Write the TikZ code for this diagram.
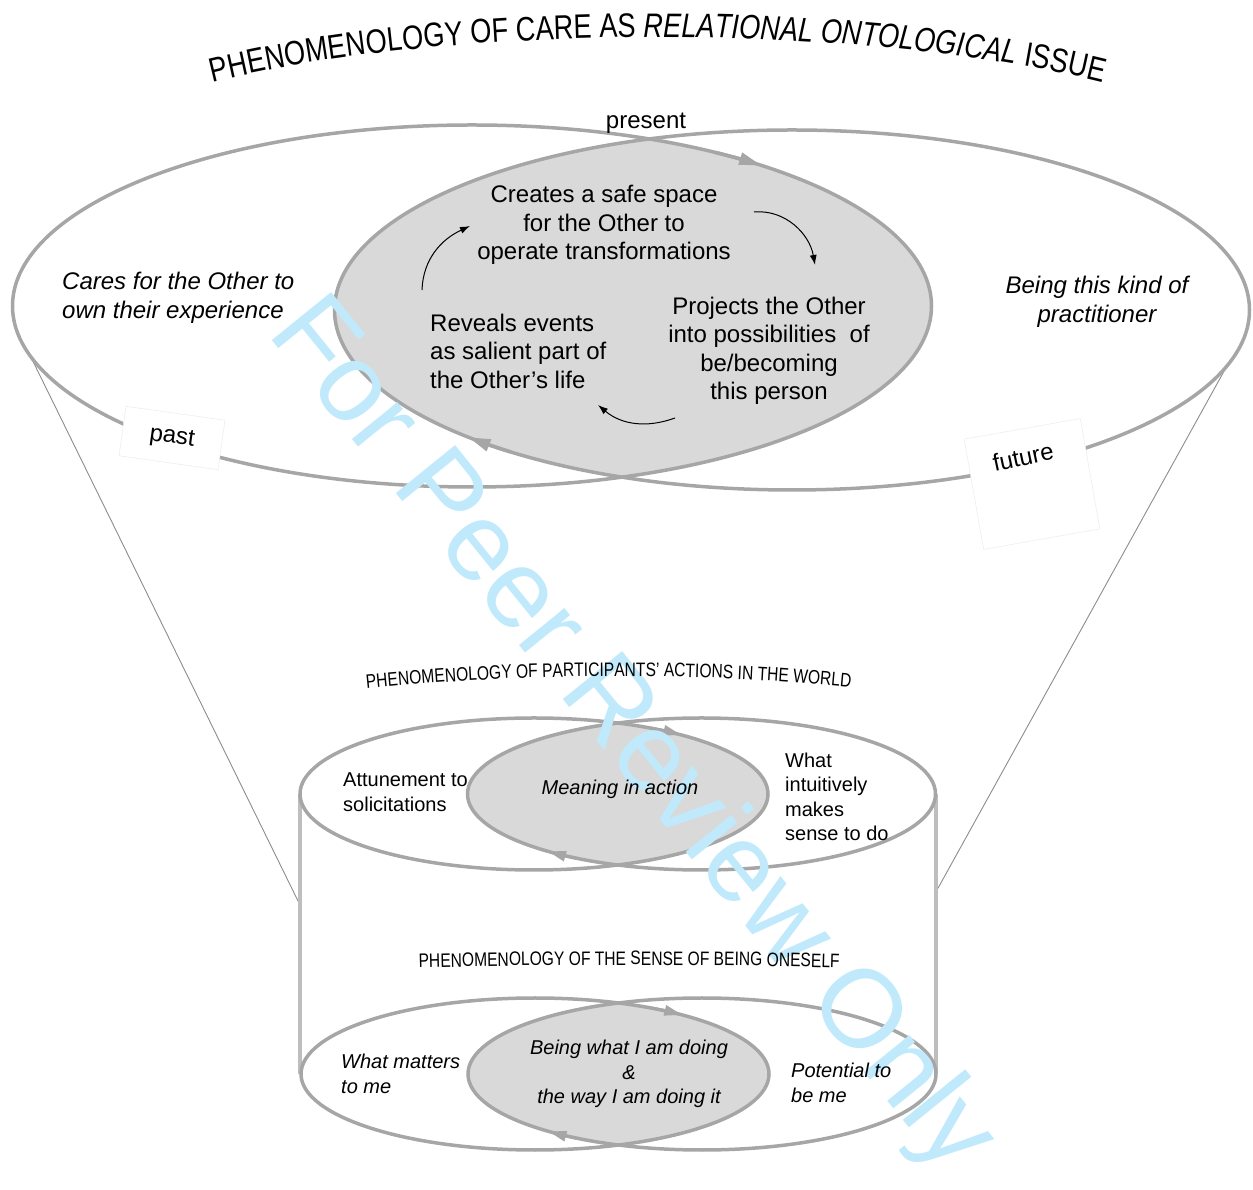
\documentclass[tikz,border=0pt]{standalone}
\usepackage{fontspec}
\setmainfont{Liberation Sans}
\newfontfamily\titlefont[FakeStretch=0.8]{Liberation Sans}
\usetikzlibrary{arrows.meta,decorations.text}

\definecolor{ringgray}{RGB}{166,166,166}
\definecolor{lensgray}{RGB}{217,217,217}
\definecolor{sidegray}{RGB}{190,190,190}
\definecolor{markcyan}{RGB}{192,234,251}

\tikzset{
  ring/.style={draw=ringgray, line width=3.5pt},
  lens/.style={fill=lensgray},
  ringtip/.style={-{Triangle[length=22pt,width=12pt]}, draw=ringgray, line width=3.5pt},
  smalltip/.style={-{Triangle[length=18pt,width=10pt]}, draw=ringgray, line width=3pt},
  side/.style={draw=sidegray, line width=3.5pt},
  funnel/.style={draw=gray!90, line width=0.9pt},
  cyclearrow/.style={-{Latex[length=10pt,width=7pt]}, line width=1pt},
  bigtext/.style={font=\fontsize{24}{28.5}\selectfont, align=center, inner sep=0pt},
  smalltext/.style={font=\fontsize{20}{24.5}\selectfont, align=left, inner sep=0pt},
  tagbox/.style={fill=white, draw=black!8, line width=0.5pt},
  watermark/.style={font=\fontsize{111}{111}\selectfont, text=markcyan, inner sep=0pt}
}

\begin{document}
\begin{tikzpicture}[x=1pt, y=1pt]
\useasboundingbox (0,0) rectangle (1253,1189);

% title on an arch
\path[decorate, decoration={text along path, text align=center,
    text={|\titlefont\fontsize{34}{38}\selectfont|PHENOMENOLOGY OF CARE AS |\titlefont\itshape\fontsize{34}{38}\selectfont|RELATIONAL ONTOLOGICAL|\titlefont\upshape\fontsize{34}{38}\selectfont| ISSUE}}]
  (210,1106) .. controls (450,1167) and (865,1167) .. (1105,1106);

% funnel from the top rings down to the cylinder
\coordinate (TL) at (472,883);
\coordinate (TR) at (792,879);
\coordinate (cylL) at (300,284);
\coordinate (cylR) at (937,299);
\draw[funnel] (TL) ++(196:459.5 and 181) -- (cylL);
\draw[funnel] (TR) ++(-18:457.5 and 180) -- (cylR);

% top rings
\begin{scope}
  \clip (TL) ellipse [x radius=459.5, y radius=181];
  \fill[lens] (TR) ellipse [x radius=457.5, y radius=180];
\end{scope}
\draw[ring] (TL) ellipse [x radius=459.5, y radius=181];
\draw[ring] (TR) ellipse [x radius=457.5, y radius=180];
\draw[ringtip] (TL) ++(58:459.5 and 181) arc [start angle=58, end angle=51, x radius=459.5, y radius=181];
\draw[ringtip] (TR) ++(232:457.5 and 180) arc [start angle=232, end angle=225, x radius=457.5, y radius=180];

% cylinder
\coordinate (ML) at (534,395);
\coordinate (MR) at (701.5,395);
\coordinate (BL) at (535,115);
\coordinate (BR) at (702,115);
\draw[side] (300,395) -- (300,115);
\draw[side] (936,395) -- (936,115);

\foreach \c/\d in {ML/MR, BL/BR} {
  \begin{scope}
    \clip (\c) ellipse [x radius=234, y radius=76];
    \fill[lens] (\d) ellipse [x radius=234, y radius=76];
  \end{scope}
  \draw[ring] (\c) ellipse [x radius=234, y radius=76];
  \draw[ring] (\d) ellipse [x radius=234, y radius=76];
  \draw[smalltip] (\c) ++(60:234 and 76) arc [start angle=60, end angle=51, x radius=234, y radius=76];
  \draw[smalltip] (\d) ++(238:234 and 76) arc [start angle=238, end angle=229, x radius=234, y radius=76];
}

% review stamp
\node[watermark, rotate=-51] (stamp) at (630,452) {For Peer Review Only};

% top texts
\node[bigtext] (present) at (646,1066) {present};
\node[bigtext] (creates) at (604,964) {Creates a safe space\\for the Other to\\operate transformations};
\node[bigtext] (projects) at (769,838) {Projects the Other\\into possibilities\ \ of\\be/becoming\\this person};
\node[bigtext, anchor=west, align=left] (reveals) at (430,838) {Reveals events\\as salient part of\\the Other’s life};
\node[bigtext, anchor=west, align=left, font=\fontsize{24}{28.5}\selectfont\itshape] (cares) at (62,891) {Cares for the Other to\\own their experience};
\node[bigtext, font=\fontsize{24}{28.5}\selectfont\itshape] (kind) at (1097,887) {Being this kind of\\practitioner};

\coordinate (c1a) at (422,899);
\coordinate (c1b) at (470,963);
\coordinate (c2a) at (754,977);
\coordinate (c2b) at (815,924);
\coordinate (c3a) at (675,771);
\coordinate (c3b) at (598,784);
\draw[cyclearrow] (c1a) to[out=88, in=205] (c1b);
\draw[cyclearrow] (c2a) to[out=5, in=100] (c2b);
\draw[cyclearrow] (c3a) to[out=200, in=-40] (c3b);

\node[tagbox, rotate=-8, minimum width=100, minimum height=50] (pastbox) at (172,751) {};
\node[bigtext, rotate=-8] (past) at (172,751) {past};
\node[tagbox, rotate=10, minimum width=118, minimum height=112] (futurebox) at (1032,705) {};
\node[bigtext, rotate=12] (future) at (1023,732) {future};

% cylinder texts
\path[decorate, decoration={text along path, text align=center,
    text={|\titlefont\fontsize{19.5}{21}\selectfont|PHENOMENOLOGY OF PARTICIPANTS’ ACTIONS IN THE WORLD}}]
  (357,499) .. controls (520,517) and (700,517) .. (860,501);
\path[decorate, decoration={text along path, text align=center,
    text={|\titlefont\fontsize{19.5}{21}\selectfont|PHENOMENOLOGY OF THE SENSE OF BEING ONESELF}}]
  (418,221) .. controls (560,225) and (700,225) .. (840,221);

\node[smalltext, anchor=west] (attune) at (343,397) {Attunement to\\solicitations};
\node[smalltext, align=center, font=\fontsize{20}{24.5}\selectfont\itshape] (meaning) at (620,400) {Meaning in action};
\node[smalltext, anchor=west] (sense) at (785,392) {What\\intuitively\\makes\\sense to do};

\node[smalltext, anchor=west, font=\fontsize{20}{24.5}\selectfont\itshape] (matters) at (341,115) {What matters\\to me};
\node[smalltext, align=center, font=\fontsize{20}{24.5}\selectfont\itshape] (doing) at (629,115) {Being what I am doing\\\&\\the way I am doing it};
\node[smalltext, anchor=west, font=\fontsize{20}{24.5}\selectfont\itshape] (potential) at (791,106) {Potential to\\be me};
\end{tikzpicture}
\end{document}
